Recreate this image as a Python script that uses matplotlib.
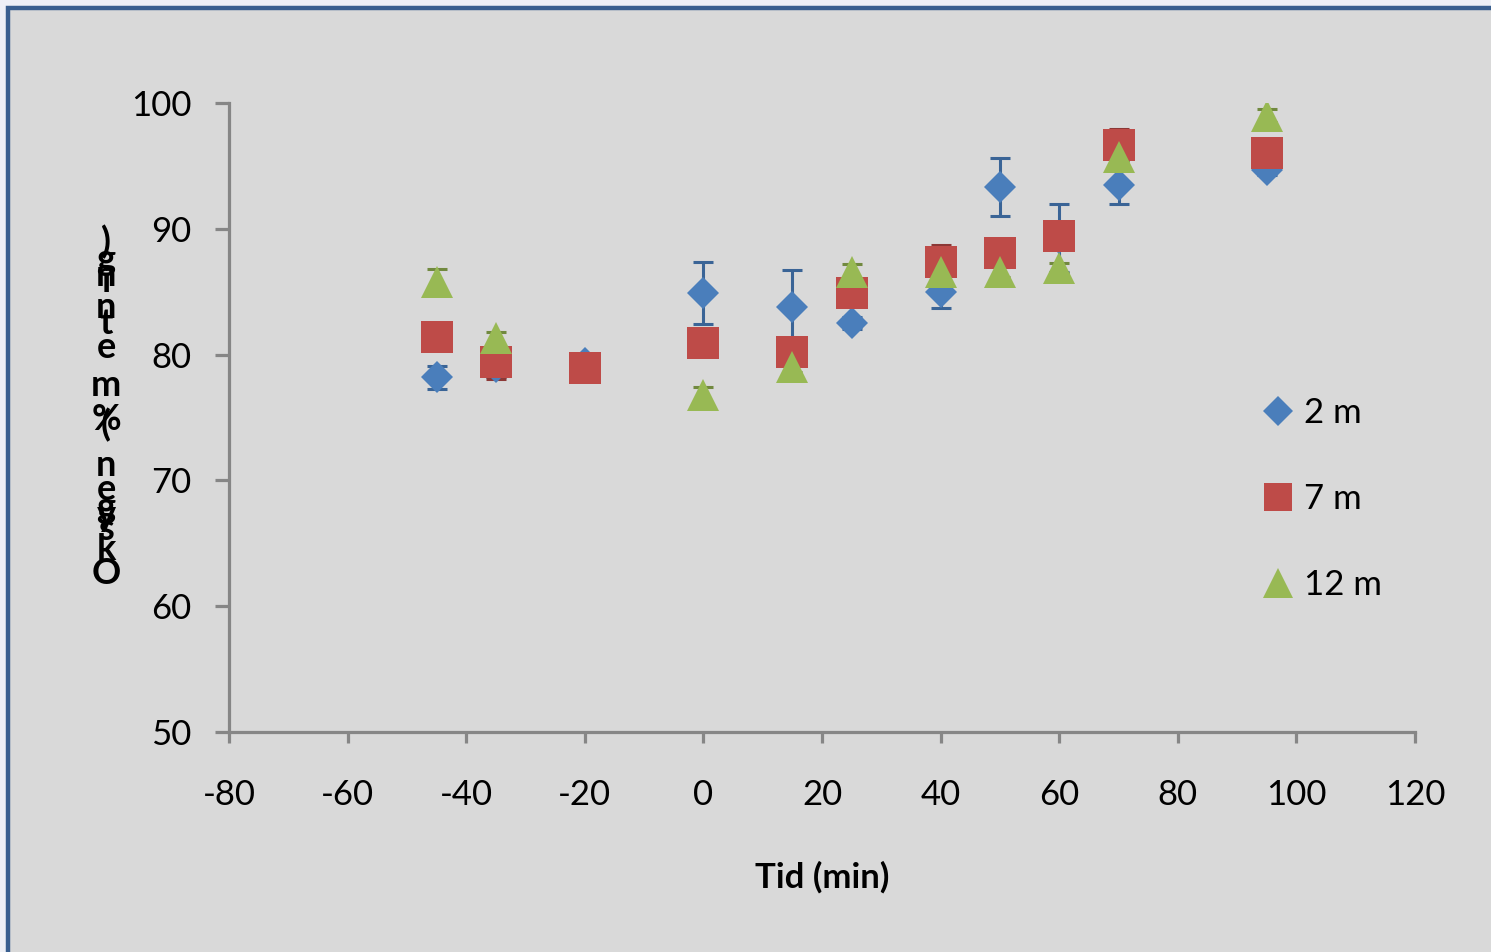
import matplotlib
matplotlib.use("Agg")
import matplotlib.pyplot as plt
from matplotlib.patches import Rectangle

plt.rcParams['font.family'] = ['Lato', 'DejaVu Sans']
plt.rcParams['axes.unicode_minus'] = False

# data
x_2m = [-45, -35, -20, 0, 15, 25, 40, 50, 60, 70, 95]
y_2m = [78.2, 79.0, 79.3, 84.9, 83.8, 82.5, 85.0, 93.3, 89.3, 93.5, 94.7]
e_2m = [0.9, 0.8, 0.3, 2.5, 2.9, 0.5, 1.3, 2.3, 2.7, 1.5, 0.4]

x_7m = [-45, -35, -20, 0, 15, 25, 40, 50, 60, 70, 95]
y_7m = [81.4, 79.4, 78.9, 80.9, 80.2, 84.9, 87.4, 88.1, 89.4, 96.7, 96.0]
e_7m = [0.4, 1.3, 0.3, 0.4, 0.4, 0.6, 1.3, 1.0, 0.4, 1.2, 0.4]

x_12m = [-45, -35, 0, 15, 25, 40, 50, 60, 70, 95]
y_12m = [85.8, 81.3, 76.8, 79.0, 86.6, 86.6, 86.6, 86.9, 95.7, 99.0]
e_12m = [1.0, 0.5, 0.6, 0.4, 0.6, 0.4, 0.4, 0.4, 0.4, 0.5]

labels = ['2 m', '7 m', '12 m']
ylabel_text = 'Oksygen (% metning)'
xticks = [-80, -60, -40, -20, 0, 20, 40, 60, 80, 100, 120]
yticks = [50, 60, 70, 80, 90, 100]

W, H = 1491, 952
fig = plt.figure(figsize=(W / 100, H / 100), dpi=100)
fig.patch.set_facecolor('#eef0f6')
bg = Rectangle((8 / W, -0.05), 1.1, 1 - 8 / H + 0.05,
               transform=fig.transFigure, facecolor='#d9d9d9',
               edgecolor='#3a5f8f', linewidth=3.2, zorder=-10)
fig.patches.append(bg)

ax = fig.add_axes([229 / W, 1 - 732 / H, (1415 - 229) / W, (732 - 103) / H])
ax.set_facecolor('none')

series = [
    (x_2m, y_2m, e_2m, 'D', 16.5, '#4a7ebb', '#3a6496'),
    (x_7m, y_7m, e_7m, 's', 23, '#be4b48', '#8c3836'),
    (x_12m, y_12m, e_12m, '^', 23.5, '#98b954', '#71893f'),
]
for (xs, ys, es, mk, ms, col, ecol), lab in zip(series, labels):
    ax.errorbar(xs, ys, yerr=es, fmt='none', ecolor=ecol, elinewidth=2.2,
                capsize=7, capthick=2.2, zorder=2)
    ax.plot(xs, ys, linestyle='none', marker=mk, markersize=ms, color=col,
            markeredgewidth=0, zorder=3, label=lab)

ax.set_xlim(-80, 120)
ax.set_ylim(50, 100)
ax.set_xticks(xticks)
ax.set_yticks(yticks)
ax.spines['top'].set_visible(False)
ax.spines['right'].set_visible(False)
for s in ('left', 'bottom'):
    ax.spines[s].set_color('#868686')
    ax.spines[s].set_linewidth(2.3)
    ax.spines[s].set_capstyle('projecting')
ax.tick_params(axis='x', direction='out', length=8, width=2.3, color='#868686',
               labelsize=25, pad=26)
ax.tick_params(axis='y', direction='out', length=10, width=2.3, color='#868686',
               labelsize=25, pad=17)

ax.set_xlabel('Tid (min)', fontsize=25, fontweight='bold', labelpad=36)

# y label drawn as upright characters stacked bottom to top, as in the source
char_y = [573, 550, 530, 515, 507, 490, 465, None, 425, 420, None,
          385, 347, 323, 307, 282, 275, 260, 242]
for ch, py in zip(ylabel_text, char_y):
    if py is None or ch == ' ':
        continue
    fig.text(106 / W, 1 - py / H, ch, fontsize=26, fontweight='bold',
             ha='center', va='center')

leg = ax.legend(loc='upper left', bbox_to_anchor=(1236 / W, 1 - 366 / H),
                bbox_transform=fig.transFigure, frameon=False, fontsize=25,
                handlelength=0.6, handletextpad=0.45, labelspacing=1.55,
                markerscale=0.9)

fig.savefig('out.png', dpi=100, facecolor=fig.get_facecolor())
